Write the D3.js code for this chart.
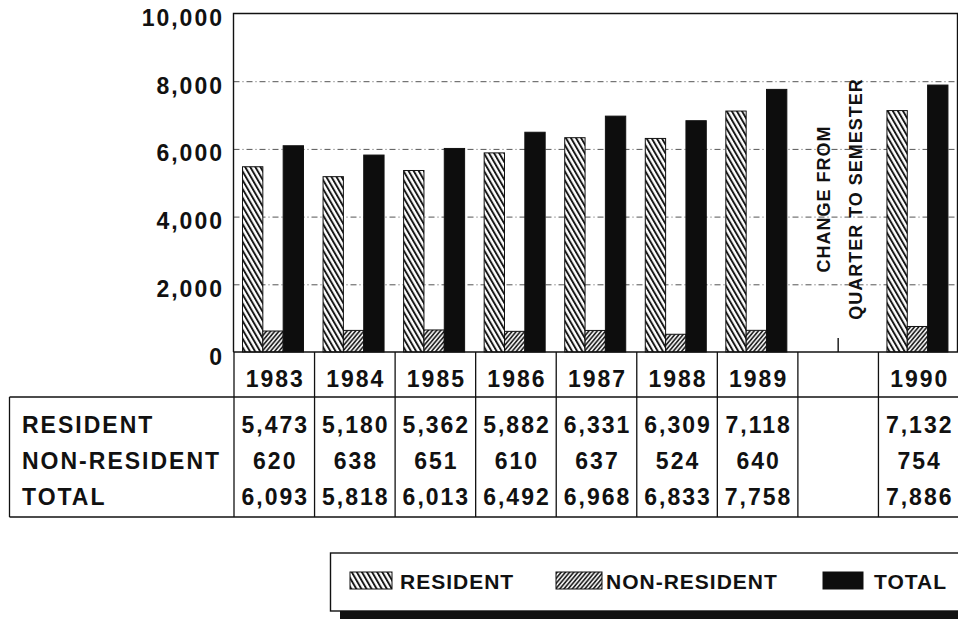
<!DOCTYPE html>
<html>
<head>
    <title>Resident / Non-Resident Enrollment</title>
    <script src="https://d3js.org/d3.v7.min.js"></script>
    <style>
        body {
            margin: 0;
            background-color: #ffffff;
        }

        svg text {
            font-family: "Liberation Sans", Arial, Helvetica, sans-serif;
            font-weight: bold;
            fill: #111;
        }
    </style>
</head>
<body>
    <svg id="chart" width="958" height="619"></svg>

    <script>
        var years = ["1983", "1984", "1985", "1986", "1987", "1988", "1989", "", "1990"];
        var resident = [5473, 5180, 5362, 5882, 6331, 6309, 7118, null, 7132];
        var nonResident = [620, 638, 651, 610, 637, 524, 640, null, 754];
        var total = [6093, 5818, 6013, 6492, 6968, 6833, 7758, null, 7886];
        var seriesNames = ["RESIDENT", "NON-RESIDENT", "TOTAL"];
        var yTicks = [0, 2000, 4000, 6000, 8000, 10000];
        var noteLines = ["CHANGE FROM", "QUARTER TO SEMESTER"];

        var seriesValues = [resident, nonResident, total];
        var fills = ["url(#resHatch)", "url(#nonHatch)", "#0d0d0d"];

        var svg = d3.select("#chart");

        var plotLeft = 233.5,
            plotRight = 957.5,
            plotTop = 13.5,
            plotBottom = 352;

        var xScale = d3.scaleBand().domain(d3.range(years.length)).range([234, 959]);
        var inner = d3.scaleBand().domain(seriesNames).range([8.5, 69.5]);
        var yScale = d3.scaleLinear().domain([0, 10000]).range([plotBottom, plotTop]);

        // hatch patterns
        var defs = svg.append("defs");
        var p1 = defs.append("pattern").attr("id", "resHatch")
            .attr("patternUnits", "userSpaceOnUse")
            .attr("width", 4.4).attr("height", 10)
            .attr("patternTransform", "rotate(-30)");
        p1.append("rect").attr("width", 4.4).attr("height", 10).attr("fill", "#fff");
        p1.append("line").attr("x1", 1).attr("x2", 1).attr("y1", 0).attr("y2", 10)
            .attr("stroke", "#111").attr("stroke-width", 1.9);

        var p2 = defs.append("pattern").attr("id", "nonHatch")
            .attr("patternUnits", "userSpaceOnUse")
            .attr("width", 3.2).attr("height", 10)
            .attr("patternTransform", "rotate(40)");
        p2.append("rect").attr("width", 3.2).attr("height", 10).attr("fill", "#fff");
        p2.append("line").attr("x1", 1).attr("x2", 1).attr("y1", 0).attr("y2", 10)
            .attr("stroke", "#111").attr("stroke-width", 1.6);

        // grid lines
        var grid = svg.append("g")
            .attr("transform", "translate(" + plotLeft + ",0)")
            .call(d3.axisLeft(yScale).tickValues(yTicks.slice(1, -1)).tickSize(-(plotRight - plotLeft)).tickFormat(""));
        grid.select(".domain").remove();
        grid.selectAll("line")
            .attr("stroke", "#555")
            .attr("stroke-width", 1)
            .attr("stroke-dasharray", "6,3,1,3");

        // y axis labels
        var yAxis = svg.append("g")
            .attr("transform", "translate(224,0)")
            .call(d3.axisLeft(yScale).tickValues(yTicks).tickSize(0).tickPadding(0).tickFormat(d3.format(",")));
        yAxis.select(".domain").remove();
        yAxis.selectAll("text")
            .attr("dy", "0")
            .attr("y", 12)
            .style("font-size", "23px")
            .style("letter-spacing", "2px");

        // bars
        var groups = svg.selectAll(".year")
            .data(years.map(function(d, i) { return i; }).filter(function(i) { return resident[i] != null; }))
            .enter().append("g")
            .attr("class", "year")
            .attr("transform", function(i) { return "translate(" + xScale(i) + ",0)"; });

        groups.selectAll("rect")
            .data(function(i) {
                return seriesNames.map(function(s, k) {
                    return { name: s, value: seriesValues[k][i], fill: fills[k] };
                });
            })
            .enter().append("rect")
            .attr("x", function(d) { return inner(d.name); })
            .attr("width", inner.bandwidth())
            .attr("y", function(d) { return yScale(d.value); })
            .attr("height", function(d) { return plotBottom - yScale(d.value); })
            .attr("fill", function(d) { return d.fill; })
            .attr("stroke", "#111")
            .attr("stroke-width", 1);

        // plot frame
        var frame = svg.append("g").attr("stroke", "#111").attr("stroke-width", 1.4).attr("fill", "none");
        frame.append("path")
            .attr("d", "M" + plotLeft + "," + plotBottom + "V" + plotTop + "H" + plotRight + "V" + plotBottom);

        // tick in the gap column
        var gapIndex = years.indexOf("");
        var gapX = xScale(gapIndex) + xScale.bandwidth() / 2;
        frame.append("line")
            .attr("x1", gapX).attr("x2", gapX)
            .attr("y1", plotBottom - 14).attr("y2", plotBottom);

        // note about calendar change
        noteLines.forEach(function(t, k) {
            svg.append("text")
                .attr("transform", "translate(" + (830 + k * 32) + ",199) rotate(-90)")
                .attr("text-anchor", "middle")
                .style("font-size", "18px")
                .style("letter-spacing", "1px")
                .text(t);
        });

        // data table
        var rowTop = 397,
            tableBottom = 517,
            labelLeft = 9.5;
        var table = svg.append("g").attr("stroke", "#111").attr("stroke-width", 1.3).attr("fill", "none");
        table.append("line").attr("x1", plotLeft).attr("x2", 960).attr("y1", plotBottom).attr("y2", plotBottom);
        table.append("line").attr("x1", labelLeft).attr("x2", 960).attr("y1", rowTop).attr("y2", rowTop);
        table.append("line").attr("x1", labelLeft).attr("x2", 960).attr("y1", tableBottom).attr("y2", tableBottom);
        table.append("line").attr("x1", labelLeft).attr("x2", labelLeft).attr("y1", rowTop).attr("y2", tableBottom);
        table.selectAll(".col")
            .data(d3.range(years.length + 1))
            .enter().append("line")
            .attr("x1", function(i) { return xScale.range()[0] + i * xScale.bandwidth(); })
            .attr("x2", function(i) { return xScale.range()[0] + i * xScale.bandwidth(); })
            .attr("y1", plotBottom)
            .attr("y2", tableBottom);

        // year labels
        svg.selectAll(".yearLabel")
            .data(years)
            .enter().append("text")
            .attr("x", function(d, i) { return xScale(i) + xScale.bandwidth() / 2 + 1; })
            .attr("y", 387)
            .attr("text-anchor", "middle")
            .style("font-size", "23px")
            .style("letter-spacing", "2px")
            .text(function(d) { return d; });

        var rowBaselines = [433, 469, 505];
        var fmt = d3.format(",");

        seriesNames.forEach(function(name, k) {
            svg.append("text")
                .attr("x", 22)
                .attr("y", rowBaselines[k])
                .style("font-size", "23px")
                .style("letter-spacing", "2px")
                .text(name);

            svg.selectAll(".val" + k)
                .data(seriesValues[k])
                .enter().append("text")
                .attr("x", function(d, i) { return xScale(i) + xScale.bandwidth() / 2 + 1; })
                .attr("y", rowBaselines[k])
                .attr("text-anchor", "middle")
                .style("font-size", "23px")
                .style("letter-spacing", "2px")
                .text(function(d) { return d == null ? "" : fmt(d); });
        });

        // legend
        var legend = svg.append("g");
        legend.append("rect")
            .attr("x", 340).attr("y", 563).attr("width", 700).attr("height", 58)
            .attr("fill", "#111");
        legend.append("rect")
            .attr("x", 330.5).attr("y", 553).attr("width", 700).attr("height", 58)
            .attr("fill", "#fff").attr("stroke", "#111").attr("stroke-width", 1.4);

        var swatchX = [350, 556, 823],
            swatchW = [42, 46, 40],
            labelX = [400, 606, 874];

        seriesNames.forEach(function(name, k) {
            legend.append("rect")
                .attr("x", swatchX[k]).attr("y", 572)
                .attr("width", swatchW[k]).attr("height", 17)
                .attr("fill", fills[k])
                .attr("stroke", "#111").attr("stroke-width", 1);
            legend.append("text")
                .attr("x", labelX[k])
                .attr("y", 589)
                .style("font-size", "21px")
                .style("letter-spacing", "1px")
                .text(name);
        });
    </script>
</body>
</html>
